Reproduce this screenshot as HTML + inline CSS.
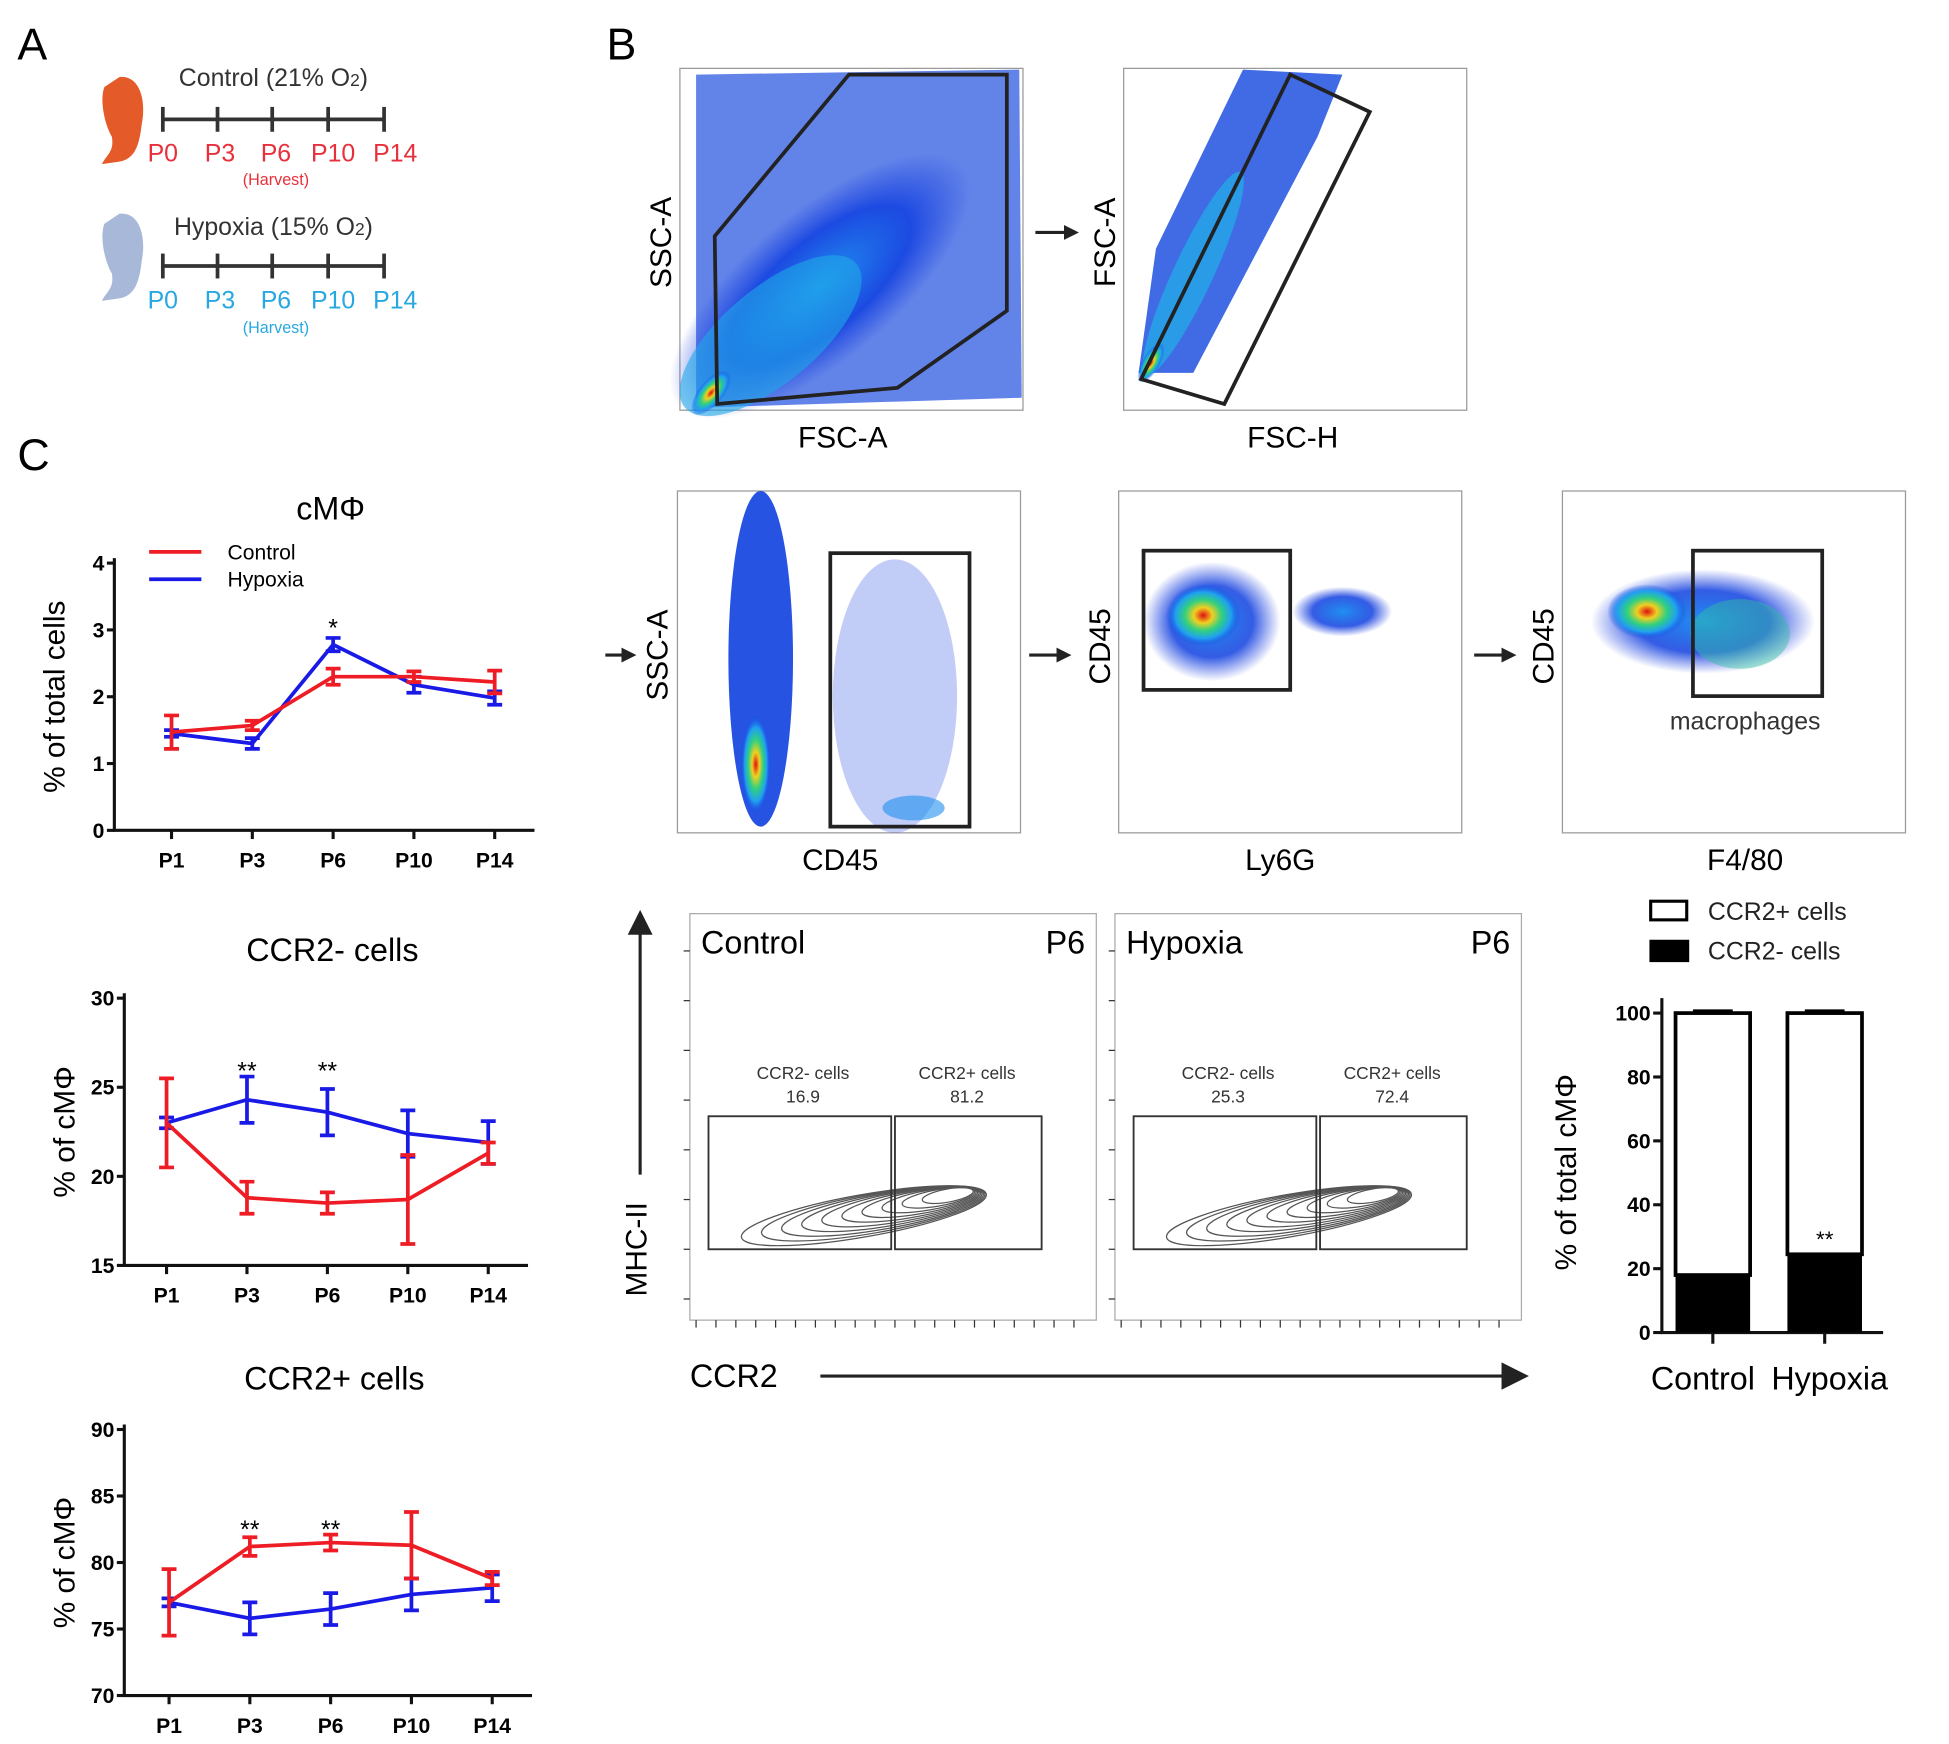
<!DOCTYPE html>
<html><head><meta charset="utf-8"><style>
html,body{margin:0;padding:0;background:#fff}
svg{display:block}
text{font-family:"Liberation Sans",Arial,sans-serif}
</style></head><body>
<svg id="fig" width="1949" height="1744" viewBox="0 0 1568 1403" preserveAspectRatio="none" xmlns="http://www.w3.org/2000/svg">
<defs>
<radialGradient id="heat" cx="50%" cy="50%" r="50%">
<stop offset="0" stop-color="#e01010"/><stop offset="0.25" stop-color="#f0d020"/><stop offset="0.5" stop-color="#30d080"/><stop offset="0.75" stop-color="#20a0f0"/><stop offset="1" stop-color="#1040e0" stop-opacity="0"/>
</radialGradient>
<radialGradient id="blueg" cx="50%" cy="50%" r="50%">
<stop offset="0" stop-color="#2090f0"/><stop offset="0.6" stop-color="#1040e0" stop-opacity="0.85"/><stop offset="1" stop-color="#2040e0" stop-opacity="0"/>
</radialGradient>
</defs>

<!-- Panel A -->
<g>
<text x="14" y="48" font-size="36">A</text>
<path d="M96,62 C112,60 118,80 114,100 C112,118 108,128 96,130 L82,132 C86,124 92,122 90,110 C84,100 80,80 84,70 Z" fill="#e45a28"/>
<text x="220" y="69" font-size="20" text-anchor="middle" fill="#333">Control (21% O<tspan font-size="14">2</tspan>)</text>
<g stroke="#333" stroke-width="3">
<line x1="131" y1="96" x2="309" y2="96"/>
<line x1="131" y1="86" x2="131" y2="106"/><line x1="175" y1="86" x2="175" y2="106"/><line x1="219" y1="86" x2="219" y2="106"/><line x1="264" y1="86" x2="264" y2="106"/><line x1="309" y1="86" x2="309" y2="106"/>
</g>
<g fill="#e8303c" font-size="20" text-anchor="middle">
<text x="131" y="130">P0</text><text x="177" y="130">P3</text><text x="222" y="130">P6</text><text x="268" y="130">P10</text><text x="318" y="130">P14</text>
<text x="222" y="149" font-size="13">(Harvest)</text></g>
<path d="M96,172 C112,170 118,190 114,210 C112,228 108,238 96,240 L82,242 C86,234 92,232 90,220 C84,210 80,190 84,180 Z" fill="#a8b8d8"/>
<text x="220" y="189" font-size="20" text-anchor="middle" fill="#333">Hypoxia (15% O<tspan font-size="14">2</tspan>)</text>
<g stroke="#333" stroke-width="3">
<line x1="131" y1="214" x2="309" y2="214"/>
<line x1="131" y1="204" x2="131" y2="224"/><line x1="175" y1="204" x2="175" y2="224"/><line x1="219" y1="204" x2="219" y2="224"/><line x1="264" y1="204" x2="264" y2="224"/><line x1="309" y1="204" x2="309" y2="224"/>
</g>
<g fill="#28a8e0" font-size="20" text-anchor="middle">
<text x="131" y="248">P0</text><text x="177" y="248">P3</text><text x="222" y="248">P6</text><text x="268" y="248">P10</text><text x="318" y="248">P14</text>
<text x="222" y="268" font-size="13">(Harvest)</text></g>
</g>

<!-- Panel B -->
<g stroke-linejoin="miter">
<text x="488" y="48" font-size="36">B</text>
<g>
<rect x="547" y="55" width="276" height="275" fill="#fff" stroke="#999"/>
<polygon points="560,60 820,56 822,320 560,328" fill="#2050e0" opacity="0.7"/>
<ellipse cx="660" cy="230" rx="150" ry="60" transform="rotate(-40 660 230)" fill="url(#blueg)"/>
<ellipse cx="620" cy="270" rx="90" ry="38" transform="rotate(-40 620 270)" fill="#20a8e8" opacity="0.6"/>
<ellipse cx="572" cy="316" rx="22" ry="10" transform="rotate(-50 572 316)" fill="url(#heat)"/>
<polygon points="577,325 575,190 683,60 810,60 810,250 722,312" fill="none" stroke="#222" stroke-width="3"/>
<text x="540" y="195" font-size="24" text-anchor="middle" transform="rotate(-90 540 195)">SSC-A</text>
<text x="678" y="360" font-size="24" text-anchor="middle">FSC-A</text>
</g>
<g><line x1="833" y1="187" x2="858" y2="187" stroke="#222" stroke-width="2.5"/><polygon points="868,187 856,181 856,193" fill="#222"/></g>
<g>
<rect x="904" y="55" width="276" height="275" fill="#fff" stroke="#999"/>
<polygon points="916,300 930,200 1000,56 1080,60 1060,110 960,300" fill="#2050e0" opacity="0.85"/>
<ellipse cx="960" cy="220" rx="90" ry="16" transform="rotate(-65 960 220)" fill="#20b0e8" opacity="0.7"/>
<ellipse cx="926" cy="292" rx="18" ry="7" transform="rotate(-60 926 292)" fill="url(#heat)"/>
<polygon points="918,305 1038,60 1102,90 985,325" fill="none" stroke="#222" stroke-width="3"/>
<text x="897" y="195" font-size="24" text-anchor="middle" transform="rotate(-90 897 195)">FSC-A</text>
<text x="1040" y="360" font-size="24" text-anchor="middle">FSC-H</text>
</g>
<g><line x1="487" y1="527" x2="502" y2="527" stroke="#222" stroke-width="2.5"/><polygon points="512,527 500,521 500,533" fill="#222"/></g>
<g>
<rect x="545" y="395" width="276" height="275" fill="#fff" stroke="#999"/>
<ellipse cx="612" cy="530" rx="26" ry="135" fill="#1040e0" opacity="0.9"/>
<ellipse cx="720" cy="560" rx="50" ry="110" fill="#5070e8" opacity="0.35"/>
<ellipse cx="608" cy="615" rx="12" ry="40" fill="url(#heat)"/>
<ellipse cx="735" cy="650" rx="25" ry="10" fill="#2090f0" opacity="0.6"/>
<rect x="668" y="445" width="112" height="220" fill="none" stroke="#222" stroke-width="3"/>
<text x="537" y="527" font-size="24" text-anchor="middle" transform="rotate(-90 537 527)">SSC-A</text>
<text x="676" y="700" font-size="24" text-anchor="middle">CD45</text>
</g>
<g><line x1="828" y1="527" x2="852" y2="527" stroke="#222" stroke-width="2.5"/><polygon points="862,527 850,521 850,533" fill="#222"/></g>
<g>
<rect x="900" y="395" width="276" height="275" fill="#fff" stroke="#999"/>
<ellipse cx="975" cy="500" rx="55" ry="48" fill="url(#blueg)"/>
<ellipse cx="1080" cy="492" rx="40" ry="20" fill="url(#blueg)"/>
<ellipse cx="968" cy="495" rx="30" ry="25" fill="url(#heat)"/>
<rect x="920" y="443" width="118" height="112" fill="none" stroke="#222" stroke-width="3"/>
<text x="893" y="520" font-size="24" text-anchor="middle" transform="rotate(-90 893 520)">CD45</text>
<text x="1030" y="700" font-size="24" text-anchor="middle">Ly6G</text>
</g>
<g><line x1="1186" y1="527" x2="1210" y2="527" stroke="#222" stroke-width="2.5"/><polygon points="1220,527 1208,521 1208,533" fill="#222"/></g>
<g>
<rect x="1257" y="395" width="276" height="275" fill="#fff" stroke="#999"/>
<ellipse cx="1370" cy="500" rx="90" ry="42" fill="url(#blueg)"/>
<ellipse cx="1325" cy="492" rx="32" ry="22" fill="url(#heat)"/>
<ellipse cx="1400" cy="510" rx="40" ry="28" fill="#30c0a0" opacity="0.45"/>
<rect x="1362" y="443" width="104" height="117" fill="none" stroke="#222" stroke-width="3"/>
<text x="1404" y="587" font-size="20" text-anchor="middle" fill="#333">macrophages</text>
<text x="1250" y="520" font-size="24" text-anchor="middle" transform="rotate(-90 1250 520)">CD45</text>
<text x="1404" y="700" font-size="24" text-anchor="middle">F4/80</text>
</g>
<g><line x1="515" y1="945" x2="515" y2="750" stroke="#222" stroke-width="2.5"/><polygon points="515,732 505,752 525,752" fill="#222"/>
<text x="520" y="1005" font-size="24" text-anchor="middle" transform="rotate(-90 520 1005)">MHC-II</text></g>
<g><text x="555" y="1116" font-size="26">CCR2</text>
<line x1="660" y1="1107" x2="1210" y2="1107" stroke="#222" stroke-width="2.5"/><polygon points="1230,1107 1208,1096 1208,1118" fill="#222"/></g>
<g id="contours"></g>
</g>

<text x="14" y="378" font-size="36">C</text>
<g id="lines"></g>
<g id="bars"></g>
</svg>
<script>
const NS='http://www.w3.org/2000/svg';
function mk(p,tag,at,txt){const e=document.createElementNS(NS,tag);for(const k in at)e.setAttribute(k,at[k]);if(txt!==undefined)e.textContent=txt;p.appendChild(e);return e;}

const days=['P1','P3','P6','P10','P14'];
const cmfControl=[1.47,1.57,2.3,2.3,2.22];
const cmfControlErr=[0.25,0.07,0.12,0.08,0.17];
const cmfHypoxia=[1.45,1.3,2.78,2.18,1.98];
const cmfHypoxiaErr=[0.05,0.08,0.1,0.12,0.1];
const negControl=[23,18.8,18.5,18.7,21.3];
const negControlErr=[2.5,0.9,0.6,2.5,0.6];
const negHypoxia=[23,24.3,23.6,22.4,21.9];
const negHypoxiaErr=[0.3,1.3,1.3,1.3,1.2];
const posControl=[77,81.2,81.5,81.3,78.8];
const posControlErr=[2.5,0.7,0.6,2.5,0.5];
const posHypoxia=[77,75.8,76.5,77.6,78.1];
const posHypoxiaErr=[0.3,1.2,1.2,1.2,1.0];
const cmfTicks=[0,1,2,3,4];
const negTicks=[15,20,25,30];
const posTicks=[70,75,80,85,90];
const cmfStars=['','','*','',''];
const negStars=['','**','**','',''];
const posStars=['','**','**','',''];

const charts=[
 {name:'cmf-chart',title:'cMΦ',ylab:'% of total cells',ax:92,x0:138,dx:65,y0:668,y1:453,min:0,max:4,ticks:cmfTicks,c:cmfControl,ce:cmfControlErr,h:cmfHypoxia,he:cmfHypoxiaErr,stars:cmfStars,starY:3.05,ty:418,legend:true},
 {name:'ccr2-neg-chart',title:'CCR2- cells',ylab:'% of cMΦ',ax:100,x0:134,dx:64.7,y0:1018,y1:803,min:15,max:30,ticks:negTicks,c:negControl,ce:negControlErr,h:negHypoxia,he:negHypoxiaErr,stars:negStars,starY:26,ty:773},
 {name:'ccr2-pos-chart',title:'CCR2+ cells',ylab:'% of cMΦ',ax:100,x0:136,dx:65,y0:1364,y1:1150,min:70,max:90,ticks:posTicks,c:posControl,ce:posControlErr,h:posHypoxia,he:posHypoxiaErr,stars:posStars,starY:82.6,ty:1118}
];
const LG=document.getElementById('lines');
charts.forEach(ch=>{
 const g=mk(LG,'g',{});
 
 
 const ys=v=>ch.y0-(v-ch.min)/(ch.max-ch.min)*(ch.y0-ch.y1);
 const xs=i=>ch.x0+i*ch.dx;
 const xEnd=xs(days.length-1)+32;
 const t=mk(g,'text',{x:(ch.ax+xEnd)/2+5,y:ch.ty,'font-size':26,'text-anchor':'middle'},ch.title);
 
 
 mk(g,'line',{x1:ch.ax,y1:ch.y1-4,x2:ch.ax,y2:ch.y0+1,stroke:'#111','stroke-width':2.5});
 mk(g,'line',{x1:ch.ax-1,y1:ch.y0,x2:xEnd,y2:ch.y0,stroke:'#111','stroke-width':2.5});
 ch.ticks.forEach(v=>{mk(g,'line',{x1:ch.ax-6,y1:ys(v),x2:ch.ax,y2:ys(v),stroke:'#111','stroke-width':2.5});
  mk(g,'text',{x:ch.ax-8,y:ys(v)+6,'font-size':17,'font-weight':'bold','text-anchor':'end'},v);});
 days.forEach((d,i)=>{mk(g,'line',{x1:xs(i),y1:ch.y0,x2:xs(i),y2:ch.y0+7,stroke:'#111','stroke-width':2.5});
  mk(g,'text',{x:xs(i),y:ch.y0+30,'font-size':17,'font-weight':'bold','text-anchor':'middle'},d);});
 const yl=mk(g,'text',{x:ch.ax-40,y:(ch.y0+ch.y1)/2,'font-size':24,'text-anchor':'middle',transform:`rotate(-90 ${ch.ax-40} ${(ch.y0+ch.y1)/2})`},ch.ylab);
 
 
 [[ch.h,ch.he,'#1a1ae6','hypoxia'],[ch.c,ch.ce,'#ee1c24','control']].forEach(([vals,errs,col,nm])=>{
  const pl=mk(g,'polyline',{points:vals.map((v,i)=>xs(i)+','+ys(v)).join(' '),fill:'none',stroke:col,'stroke-width':3});
  
  
  vals.forEach((v,i)=>{const x=xs(i),a=ys(v+errs[i]),b=ys(v-errs[i]);
   const eb=mk(g,'path',{d:`M${x},${a}V${b}M${x-6},${a}H${x+6}M${x-6},${b}H${x+6}`,stroke:col,'stroke-width':3,fill:'none'});
   
   });
 });
 ch.stars.forEach((s,i)=>{if(s)mk(g,'text',{x:xs(i),y:ys(ch.starY)+8,'font-size':20,'text-anchor':'middle'},s);});
 if(ch.legend){
  const lg=mk(g,'g',{});
  
  
  mk(lg,'line',{x1:120,y1:444,x2:162,y2:444,stroke:'#ee1c24','stroke-width':3});
  mk(lg,'line',{x1:120,y1:466,x2:162,y2:466,stroke:'#1a1ae6','stroke-width':3});
  mk(lg,'text',{x:183,y:450,'font-size':17},'Control');
  mk(lg,'text',{x:183,y:472,'font-size':17},'Hypoxia');
 }
});

const contourGroups=['Control','Hypoxia'];
const negPct=[16.9,25.3];
const posPct=[81.2,72.4];
const CG=document.getElementById('contours');
contourGroups.forEach((name,k)=>{
 const ox=555+k*342;
 const g=mk(CG,'g',{});
 
 
 mk(g,'rect',{x:ox,y:735,width:327,height:327,fill:'#fff',stroke:'#aaa'});
 mk(g,'text',{x:ox+9,y:767,'font-size':26},name);
 mk(g,'text',{x:ox+318,y:767,'font-size':26,'text-anchor':'end'},'P6');
 for(let i=0;i<10;i++){const f=1-i/10;
  const cx=ox+140+75*(1-f), cy=978-18*(1-f);
  mk(g,'ellipse',{cx:cx,cy:cy,rx:12+88*f,ry:4+13*f,transform:`rotate(-10 ${cx} ${cy})`,fill:'none',stroke:'#555','stroke-width':1});}
 mk(g,'rect',{x:ox+15,y:898,width:147,height:107,fill:'none',stroke:'#333','stroke-width':1.5});
 mk(g,'rect',{x:ox+165,y:898,width:118,height:107,fill:'none',stroke:'#333','stroke-width':1.5});
 mk(g,'text',{x:ox+91,y:868,'font-size':14,'text-anchor':'middle',fill:'#333'},'CCR2- cells');
 mk(g,'text',{x:ox+91,y:887,'font-size':14,'text-anchor':'middle',fill:'#333'},negPct[k]);
 mk(g,'text',{x:ox+223,y:868,'font-size':14,'text-anchor':'middle',fill:'#333'},'CCR2+ cells');
 mk(g,'text',{x:ox+223,y:887,'font-size':14,'text-anchor':'middle',fill:'#333'},posPct[k]);
 for(let j=0;j<20;j++){mk(g,'line',{x1:ox+5+j*16,y1:1062,x2:ox+5+j*16,y2:1068,stroke:'#333','stroke-width':1});}
 for(let j=0;j<8;j++){mk(g,'line',{x1:ox-5,y1:765+j*40,x2:ox,y2:765+j*40,stroke:'#333','stroke-width':1});}
});

const barGroups=['Control','Hypoxia'];
const ccr2Neg=[18,24.5];
const ccr2Pos=[82,75.5];
const barTicks=[0,20,40,60,80,100];
const BG=document.getElementById('bars');
const bg=mk(BG,'g',{});


const bAx=1337,bY0=1072,bY100=815;
const by=v=>bY0-v/100*(bY0-bY100);
mk(bg,'line',{x1:bAx,y1:bY100-12,x2:bAx,y2:bY0+1,stroke:'#111','stroke-width':2.5});
mk(bg,'line',{x1:bAx-1,y1:bY0,x2:1515,y2:bY0,stroke:'#111','stroke-width':2.5});
barTicks.forEach(v=>{mk(bg,'line',{x1:bAx-7,y1:by(v),x2:bAx,y2:by(v),stroke:'#111','stroke-width':2.5});
 mk(bg,'text',{x:bAx-9,y:by(v)+6,'font-size':17,'font-weight':'bold','text-anchor':'end'},v);});
barGroups.forEach((n,i)=>{const cx=1378+i*90;
 const r1=mk(bg,'rect',{x:cx-30,y:by(ccr2Neg[i]),width:60,height:by(0)-by(ccr2Neg[i]),fill:'#000'});
 
 
 const top=ccr2Neg[i]+ccr2Pos[i];
 const r2=mk(bg,'rect',{x:cx-30,y:by(top),width:60,height:by(ccr2Neg[i])-by(top),fill:'#fff',stroke:'#000','stroke-width':3});
 
 
 mk(bg,'line',{x1:cx-16,y1:by(top)-2,x2:cx+16,y2:by(top)-2,stroke:'#000','stroke-width':2});
 mk(bg,'line',{x1:cx,y1:bY0,x2:cx,y2:bY0+9,stroke:'#111','stroke-width':2.5});
 mk(bg,'text',{x:cx-8+i*12,y:1118,'font-size':26,'text-anchor':'middle'},n);
});
mk(bg,'text',{x:1468,y:by(ccr2Neg[1])-6,'font-size':18,'text-anchor':'middle'},'**');
const byl=mk(bg,'text',{x:1268,y:943,'font-size':24,'text-anchor':'middle',transform:'rotate(-90 1268 943)'},'% of total cMΦ');


const bl=mk(bg,'g',{});


mk(bl,'rect',{x:1328,y:725,width:29,height:15,fill:'#fff',stroke:'#000','stroke-width':2.5});
mk(bl,'rect',{x:1327,y:756,width:32,height:18,fill:'#000'});
mk(bl,'text',{x:1374,y:740,'font-size':20,fill:'#222'},'CCR2+ cells');
mk(bl,'text',{x:1374,y:772,'font-size':20,fill:'#222'},'CCR2- cells');
</script>
</body></html>
